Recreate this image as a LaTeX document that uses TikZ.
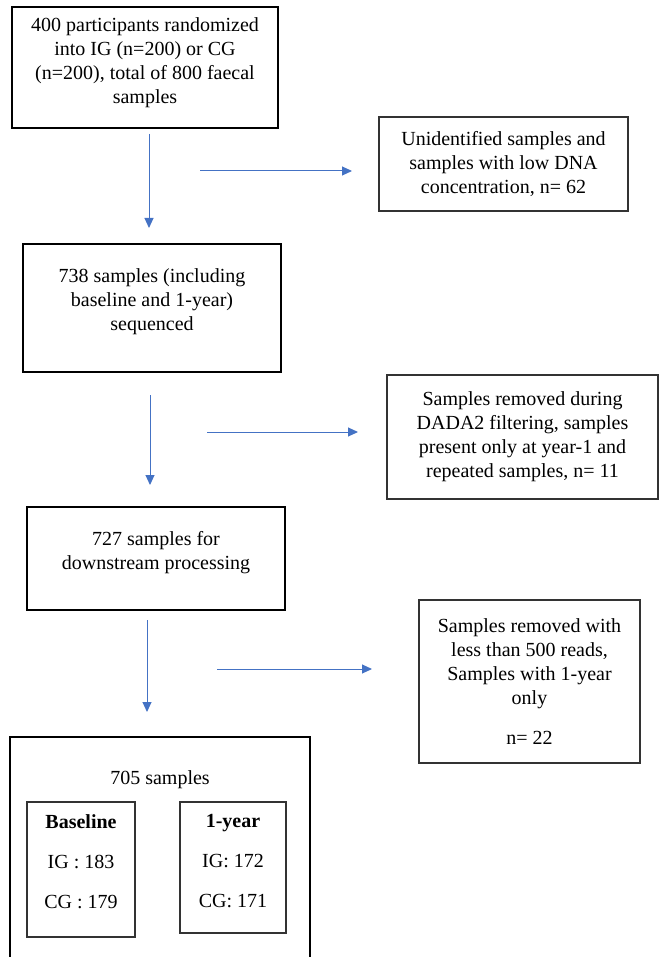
\documentclass[tikz,border=0pt]{standalone}
\usepackage{fontspec}
\setmainfont{Liberation Serif}
\usetikzlibrary{arrows.meta}
\definecolor{flowblue}{RGB}{68,114,196}

\begin{document}
\begin{tikzpicture}[x=1pt,y=-1pt,
    mainbox/.style={draw=black,line width=2.4pt,inner sep=0pt,align=center,font=\fontsize{20}{24}\selectfont},
    sidebox/.style={draw=black!80,line width=1.2pt,inner sep=0pt,align=center,font=\fontsize{20}{24}\selectfont},
    subbox/.style={draw=black!80,line width=1.2pt,inner sep=0pt,align=center,font=\fontsize{20}{24}\selectfont},
    flow/.style={draw=flowblue,line width=1pt,-{Triangle[length=10pt,width=9pt]}}]
        \useasboundingbox (0,0) rectangle (660,957);
        \clip (0,0) rectangle (660,957);

        \node[mainbox,minimum width=266pt,minimum height=121pt,text depth=13pt] (start) at (145,67.5) {400 participants randomized\\into IG (n=200) or CG\\(n=200), total of 800 faecal\\samples};
        \node[sidebox,minimum width=249pt,minimum height=94pt] (lowdna) at (503.5,164) {Unidentified samples and\\samples with low DNA\\concentration, n= 62};
        \node[mainbox,minimum width=258pt,minimum height=128pt,text depth=16pt] (seq) at (152,308) {738 samples (including\\baseline and 1-year)\\sequenced};
        \node[sidebox,minimum width=271pt,minimum height=124pt] (dada) at (522.5,437) {Samples removed during\\DADA2 filtering, samples\\present only at year-1 and\\repeated samples, n= 11};
        \node[mainbox,minimum width=258pt,minimum height=103pt,text depth=17pt] (down) at (156,558.5) {727 samples for\\downstream processing};
        \node[sidebox,minimum width=221pt,minimum height=163pt] (reads) at (529.5,681.5) {Samples removed with\\less than 500 reads,\\Samples with 1-year\\only\\[16pt]n= 22};
        \node[mainbox,minimum width=300pt,minimum height=228pt,label={[anchor=base,yshift=-49pt,font=\fontsize{20}{24}\selectfont]north:705 samples}] (final) at (160,851) {};
        \node[subbox,minimum width=108pt,minimum height=135pt,text depth=15pt] (base) at (81,869.5) {\textbf{Baseline}\\[16pt]IG : 183\\[16pt]CG : 179};
        \node[subbox,minimum width=106pt,minimum height=131pt,text depth=13pt] (year) at (233,867.5) {\textbf{1-year}\\[16pt]IG: 172\\[16pt]CG: 171};

        \coordinate (v1a) at (149,134);
        \coordinate (v1b) at (149,228);
        \coordinate (h1a) at (200,171);
        \coordinate (h1b) at (352,171);
        \coordinate (v2a) at (150,395);
        \coordinate (v2b) at (150,485);
        \coordinate (h2a) at (207,432);
        \coordinate (h2b) at (358,432);
        \coordinate (v3a) at (147,620);
        \coordinate (v3b) at (147,712);
        \coordinate (h3a) at (217,669);
        \coordinate (h3b) at (372,669);

        \draw[flow] (v1a) -- (v1b);
        \draw[flow] (h1a) -- (h1b);
        \draw[flow] (v2a) -- (v2b);
        \draw[flow] (h2a) -- (h2b);
        \draw[flow] (v3a) -- (v3b);
        \draw[flow] (h3a) -- (h3b);
    \end{tikzpicture}
\end{document}
